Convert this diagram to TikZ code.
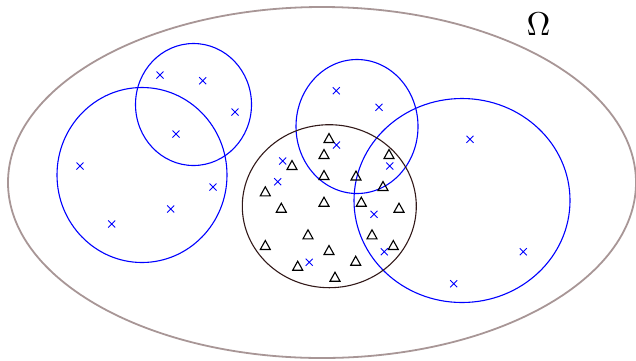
\documentclass[tikz,border=0pt]{standalone}
\begin{document}
\begin{tikzpicture}[x=1pt,y=-1pt,
  omegaline/.style={draw={rgb,255:red,168;green,150;blue,150},line width=1.8pt},
  blueset/.style={draw=blue,line width=1.1pt},
  blackset/.style={draw={rgb,255:red,50;green,25;blue,25},line width=1.1pt},
  xmark/.pic={\draw[blue,line width=0.9pt] (-3.5,-3.5) -- (3.5,3.5) (-3.5,3.5) -- (3.5,-3.5);},
  tmark/.pic={\draw[black,line width=1.1pt,line join=miter] (-5,4.5) -- (5,4.5) -- (0,-4.5) -- cycle;}]
\useasboundingbox (0,0) rectangle (636,360);
% universe
\draw[omegaline] (322,182.5) ellipse [x radius=314, y radius=175.5];
\node[scale=3.3,inner sep=0pt] (omega) at (538.5,24.5) {$\Omega$};
% blue sets
\draw[blueset] (142,175) ellipse [x radius=85, y radius=87.5];
\draw[blueset] (193.5,104.5) ellipse [x radius=58, y radius=61];
\draw[blueset] (357,126.5) ellipse [x radius=61, y radius=67];
\draw[blueset] (462,200.5) ellipse [x radius=108, y radius=102];
% black set
\draw[blackset] (329.3,206.2) ellipse [x radius=87, y radius=81.5];
% crosses
\foreach \p in {(160,75),(202.7,80.7),(235,112),(176,134),(80,166),(213,187),(170.7,209),(111.7,224),
  (336.3,90.7),(379,107.3),(470,139.3),(336.5,145),(389.8,166),(374,214.3),(384.3,251.7),(523.3,251.7),(453.7,283.7),(309.2,262.2),
  (282.7,161),(277.7,181.7)}
  \pic at \p {xmark};
% triangles
\foreach \p in {(329,138),(324,154),(389,154),(292,165),(324,175),(356,175.5),(383,186),(265.3,191.3),(281.3,207.7),(324,201.7),
  (361.3,201.7),(399,207.7),(308,234.3),(372,234.3),(265.3,245),(393.3,245),(329,250),(297.7,265.7),(355.7,260.7),(335,276.7)}
  \pic at \p {tmark};
\end{tikzpicture}
\end{document}
